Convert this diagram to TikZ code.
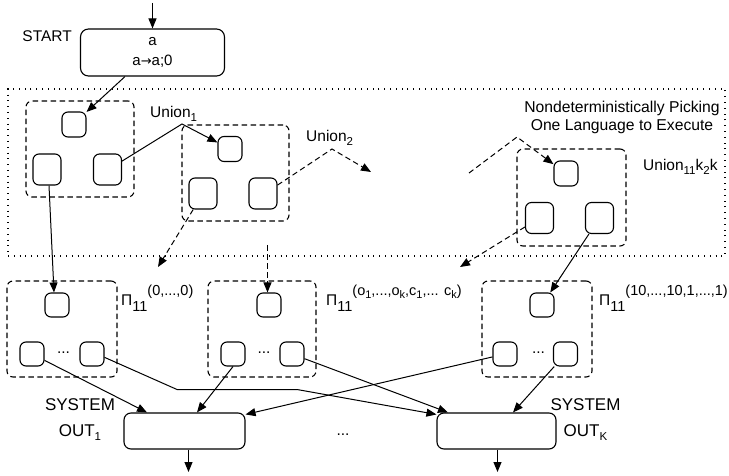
\documentclass[tikz,border=0pt]{standalone}
\usepackage{fontspec}
\setmainfont{Liberation Sans}
\newfontfamily\symfont{DejaVu Sans}
\usetikzlibrary{arrows.meta}

% small raised / lowered text
\newcommand{\lowtxt}[1]{\raisebox{-0.42ex}{\fontsize{11.5}{12}\selectfont #1}}
\newcommand{\pisub}[1]{\raisebox{-6pt}{\fontsize{14.5}{15}\selectfont #1}}
\newcommand{\pisup}[1]{\raisebox{10.5pt}{\fontsize{14.5}{15}\selectfont #1}}
\newcommand{\tinysub}[1]{\raisebox{-3pt}{\fontsize{11}{12}\selectfont #1}}

\tikzset{
  txt/.style={inner sep=0pt, font=\fontsize{15.5}{18}\selectfont},
  cell/.style={draw, line width=1.1pt, rounded corners=6pt, inner sep=0pt,
               minimum width=24pt, minimum height=24pt},
  bigcell/.style={cell, minimum width=28pt, minimum height=31pt},
  group/.style={draw, line width=1.1pt, dash pattern=on 5.5pt off 3.5pt,
                rounded corners=6pt, inner sep=0pt},
  region/.style={draw, line width=1.1pt, dash pattern=on 1pt off 4.8pt, inner sep=0pt},
  outbox/.style={draw, line width=1.1pt, rounded corners=7pt, inner sep=0pt,
                 minimum height=36pt},
  arr/.style={line width=1pt, -{Triangle[length=10pt,width=8pt]}},
  darr/.style={arr, dash pattern=on 5.5pt off 3.5pt},
}

\begin{document}
\begin{tikzpicture}[x=1pt, y=-1pt]
\useasboundingbox (0,0) rectangle (729,476);

% start state
\node[draw, line width=1.1pt, rounded corners=8pt, minimum width=144pt,
      minimum height=47pt, inner sep=0pt, align=center,
      font=\fontsize{15}{20}\selectfont] (start) at (152.5,52.5) {a\\a{\symfont\fontsize{13}{15}\selectfont→}a;0};
\node[txt, anchor=base east] (startlbl) at (72,41.7) {START};
\coordinate (in) at (152.5,3);
\draw[arr] (in) -- (start);

% nondeterministic choice region
\node[region, minimum width=717pt, minimum height=167pt] (choice) at (366.5,172.5) {};
\node[txt, align=center, font=\fontsize{15.7}{17.7}\selectfont] (pick) at (622,117.5)
  {Nondeterministically Picking\\One Language to Execute};

% Union_1
\node[group, minimum width=108pt, minimum height=96pt] (g1) at (80,149) {};
\node[cell, minimum height=25pt] (u1a) at (74,124.5) {};
\node[bigcell] (u1b) at (47,169.5) {};
\node[bigcell] (u1c) at (107.5,169.5) {};
\node[txt, anchor=base west] (l1) at (150,118) {Union\lowtxt{1}};

% Union_2
\node[group, minimum width=107pt, minimum height=96pt] (g2) at (235.5,173) {};
\node[cell, minimum height=25pt] (u2a) at (230,149) {};
\node[bigcell] (u2b) at (203,193.5) {};
\node[bigcell] (u2c) at (263,193.5) {};
\node[txt, anchor=base west] (l2) at (306,142) {Union\lowtxt{2}};

% Union_{11}k_2k
\node[group, minimum width=109pt, minimum height=97pt] (gk) at (571.5,197.5) {};
\node[cell, minimum height=25pt] (uka) at (566,173.5) {};
\node[bigcell] (ukb) at (539.5,218) {};
\node[bigcell] (ukc) at (599.5,218) {};
\node[txt, anchor=base west] (lk) at (643,171) {Union\lowtxt{11}k\lowtxt{2}k};

% languages Pi_11
\node[group, minimum width=110pt, minimum height=96pt] (p1) at (62,329) {};
\node[cell] (p1a) at (57,305) {};
\node[cell] (p1b) at (32,354) {};
\node[cell] (p1c) at (92,354) {};
\node[txt, anchor=base] (p1d) at (63.5,353.5) {...};
\node[txt, anchor=base west] (lp1) at (121,305.5) {Π\pisub{11}\pisup{(0,...,0)}};

\node[group, minimum width=108pt, minimum height=96pt] (p2) at (262,329) {};
\node[cell] (p2a) at (269,305) {};
\node[cell] (p2b) at (233,354) {};
\node[cell] (p2c) at (292,354) {};
\node[txt, anchor=base] (p2d) at (264,353.5) {...};
\node[txt, anchor=base west] (lp2) at (326,305.5)
  {Π\pisub{11}\pisup{(o\tinysub{1},...,o\tinysub{k},c\tinysub{1},... c\tinysub{k})}};

\node[group, minimum width=110pt, minimum height=96pt] (p3) at (537,329) {};
\node[cell] (p3a) at (542,305) {};
\node[cell] (p3b) at (505,354) {};
\node[cell] (p3c) at (565.5,354) {};
\node[txt, anchor=base] (p3d) at (538.5,353.5) {...};
\node[txt, anchor=base west] (lp3) at (599,305.5) {Π\pisub{11}\pisup{(10,...,10,1,...,1)}};

% system outputs
\node[outbox, minimum width=121pt] (out1) at (184.5,431) {};
\node[outbox, minimum width=119pt] (outk) at (496.5,431) {};
\node[txt, align=center, font=\fontsize{17}{26.5}\selectfont] (lo1) at (80,419.5) {SYSTEM\\OUT\lowtxt{1}};
\node[txt, align=center, font=\fontsize{17}{26.5}\selectfont] (lok) at (585.5,419.5) {SYSTEM\\OUT\lowtxt{K}};
\node[txt, anchor=base] (odots) at (343,435) {...};
\coordinate (o1) at (188.5,472);
\coordinate (ok) at (497.5,472);
\draw[arr] (out1.south -| o1) -- (o1);
\draw[arr] (outk.south -| ok) -- (ok);

% choosing among the unions
\draw[arr] ([xshift=-27.5pt]start.south) -- (u1a.45);
\coordinate (ap1) at (182,124);
\draw[arr] (u1c.30) -- (ap1) -- (u2a);
\coordinate (ap2) at (332,149);
\coordinate (e2) at (371,172);
\draw[darr] (u2c.30) -- (ap2) -- (e2);
\coordinate (s3) at (469,173);
\coordinate (ap3) at (517,137);
\draw[darr] (s3) -- (ap3) -- (uka);

% from unions to languages
\draw[arr] ([xshift=2pt]u1b.south) -- ([xshift=-3pt]p1a.north);
\coordinate (e4) at (158,267);
\draw[darr] (u2b) -- (e4);
\coordinate (s5) at (267.5,245);
\draw[darr] (s5) -- (p2a.north -| s5);
\coordinate (e6) at (460,267);
\draw[darr] (ukb) -- (e6);
\draw[arr] (ukc) -- (p3a);

% from languages to outputs
\draw[arr] (p1b) -- ([xshift=-37.5pt]out1.north);
\coordinate (b1) at (177,389.5);
\coordinate (b2) at (297,389.5);
\draw[arr] (p1c.-15) -- (b1) -- (b2) -- ([yshift=-2pt]outk.north west);
\draw[arr] (p2b.south) -- ([xshift=12.5pt]out1.north);
\draw[arr] (p2c) -- ([xshift=-48.5pt]outk.north);
\draw[arr] (p3b) -- ([yshift=-2pt]out1.north east);
\draw[arr] (p3c) -- ([xshift=16.5pt]outk.north);
\end{tikzpicture}
\end{document}
